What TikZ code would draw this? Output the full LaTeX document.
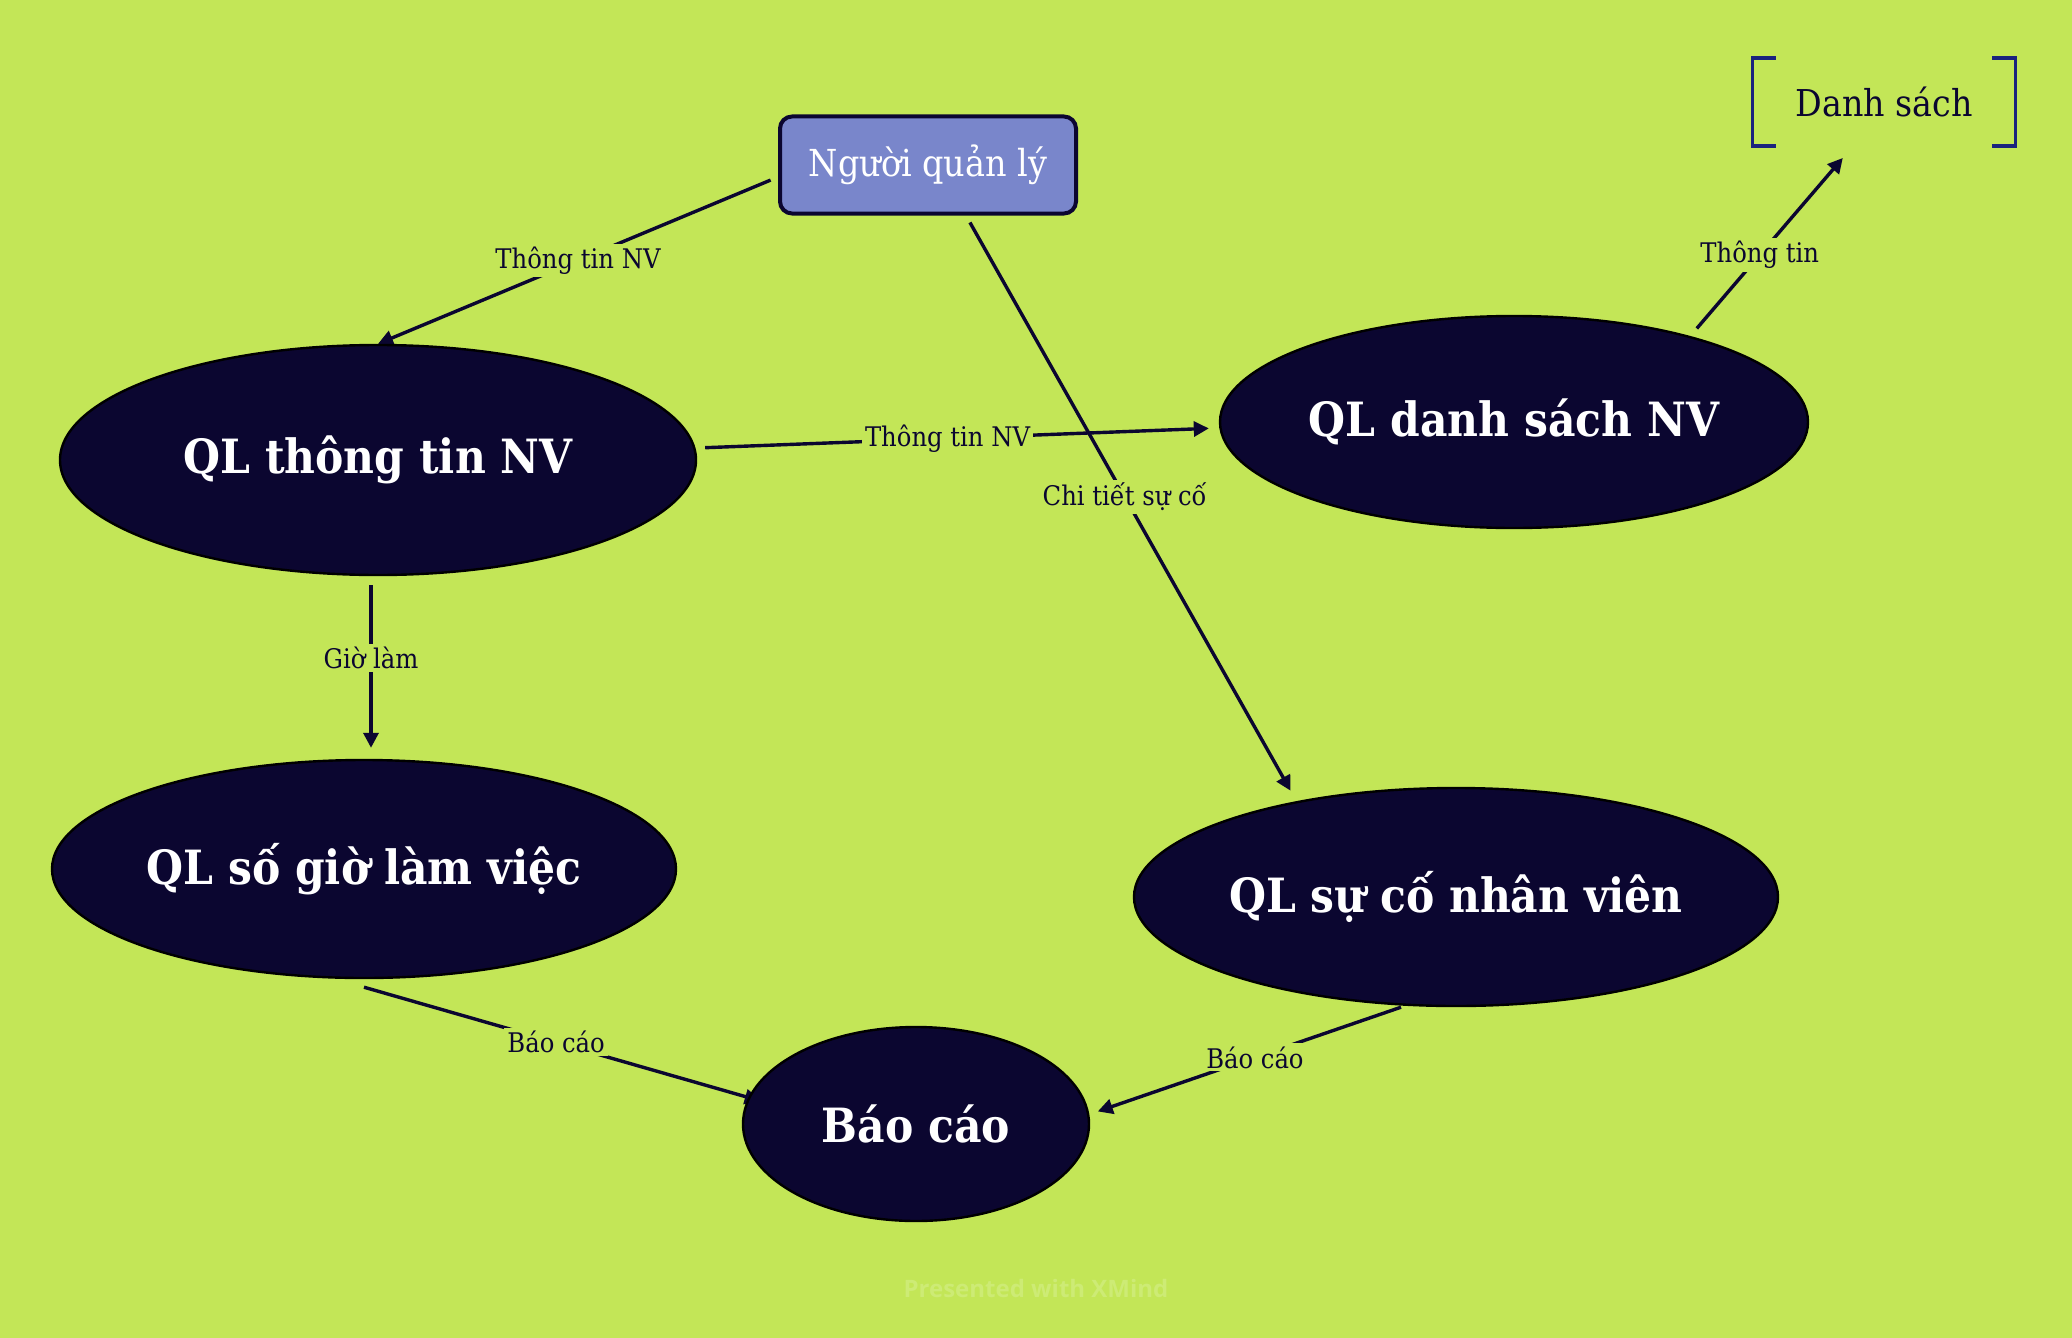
\documentclass[tikz,border=0pt]{standalone}
\usepackage{fontspec}
\setmainfont{DejaVu Serif Condensed}
\newfontfamily\markfont{Open Sans}
\usepackage{xcolor}
\usetikzlibrary{shapes.geometric}
\usetikzlibrary{arrows.meta}
\usetikzlibrary{calc}

\definecolor{lime}{HTML}{C3E657}
\definecolor{navy}{HTML}{0B0630}
\definecolor{lilac}{HTML}{7986CB}
\definecolor{ink}{HTML}{1A237E}
\definecolor{faint}{HTML}{CDEB75}

\pgfdeclarelayer{background}
\pgfdeclarelayer{edges}
\pgfsetlayers{background,edges,main}

\begin{document}
\begin{tikzpicture}[x=0.5pt,y=-0.5pt,
    topic/.style={ellipse,draw=black,line width=1.2pt,fill=navy,text=white,inner sep=0pt,
      font=\bfseries\fontsize{23.6}{28}\selectfont},
    boss/.style={rectangle,rounded corners=6pt,draw=navy,line width=2pt,fill=lilac,text=white,
      minimum width=148pt,minimum height=48.5pt,font=\fontsize{18.6}{22}\selectfont},
    lbl/.style={fill=lime,inner sep=1.5pt,text=navy,font=\fontsize{13.5}{16}\selectfont},
    flow/.style={draw=navy,line width=1.7pt,-{Triangle[length=7.5pt,width=7.5pt]}},
    bracket/.style={draw=ink,line width=1.75pt}]

      \begin{pgfonlayer}{background}
        \fill[lime] (0,0) rectangle (2072,1338);
      \end{pgfonlayer}

      \node[boss] (nql) at (928,165) {Người quản lý};
      \node[topic,minimum width=318pt,minimum height=115pt] (ttnv) at (378,460) {QL thông tin NV};
      \node[topic,minimum width=294pt,minimum height=106pt] (dsnv) at (1514,422) {QL danh sách NV};
      \node[topic,minimum width=312pt,minimum height=109pt] (sogio) at (364,869) {QL số giờ làm việc};
      \node[topic,minimum width=322pt,minimum height=109pt] (suco) at (1456,897) {QL sự cố nhân viên};
      \node[topic,minimum width=173pt,minimum height=97pt] (baocao) at (916,1124) {Báo cáo};
      \node[text=navy,minimum width=131pt,minimum height=43.5pt,font=\fontsize{18.5}{22}\selectfont] (dsach) at (1884,102) {Danh sách};

      \draw[bracket] ([xshift=11.5pt]dsach.north west) -| (dsach.south west) -- ++(11.5pt,0);
      \draw[bracket] ([xshift=-11.5pt]dsach.north east) -| (dsach.south east) -- ++(-11.5pt,0);

      \begin{pgfonlayer}{edges}
        \draw[flow,shorten <=4pt] ([yshift=-6pt]nql.west) -- node[lbl] {Thông tin NV} (ttnv.north);
        \draw[flow,shorten <=4pt,shorten >=6pt] ([xshift=19pt]nql.south) -- node[lbl,pos=0.48] {Chi tiết sự cố} (suco.149);
        \draw[flow,shorten <=4pt,shorten >=5pt] ([yshift=6pt]ttnv.east) -- node[lbl,pos=0.48] {Thông tin NV} ([yshift=-3pt]dsnv.west);
        \draw[flow,shorten <=4.5pt,shorten >=5.5pt] ([xshift=-3.5pt]ttnv.south) -- node[lbl,pos=0.45] {Giờ làm} ([xshift=3.5pt]sogio.north);
        \draw[flow,shorten <=5pt,shorten >=4pt] (dsnv.26) -- node[lbl,pos=0.44] {Thông tin} ([xshift=-18pt,yshift=-3pt]dsach.south);
        \draw[flow,shorten >=-6pt] ([yshift=-4pt]sogio.south) -- node[lbl] {Báo cáo} (baocao.171);
        \draw[flow,shorten >=4pt] ([xshift=-27.5pt]suco.south) -- node[lbl,pos=0.47] {Báo cáo} ([yshift=5pt]baocao.east);
      \end{pgfonlayer}

      \node[text=faint,font=\markfont\bfseries\fontsize{12}{14}\selectfont] (xmind) at (1036,1288) {Presented with XMind};
    \end{tikzpicture}
\end{document}
